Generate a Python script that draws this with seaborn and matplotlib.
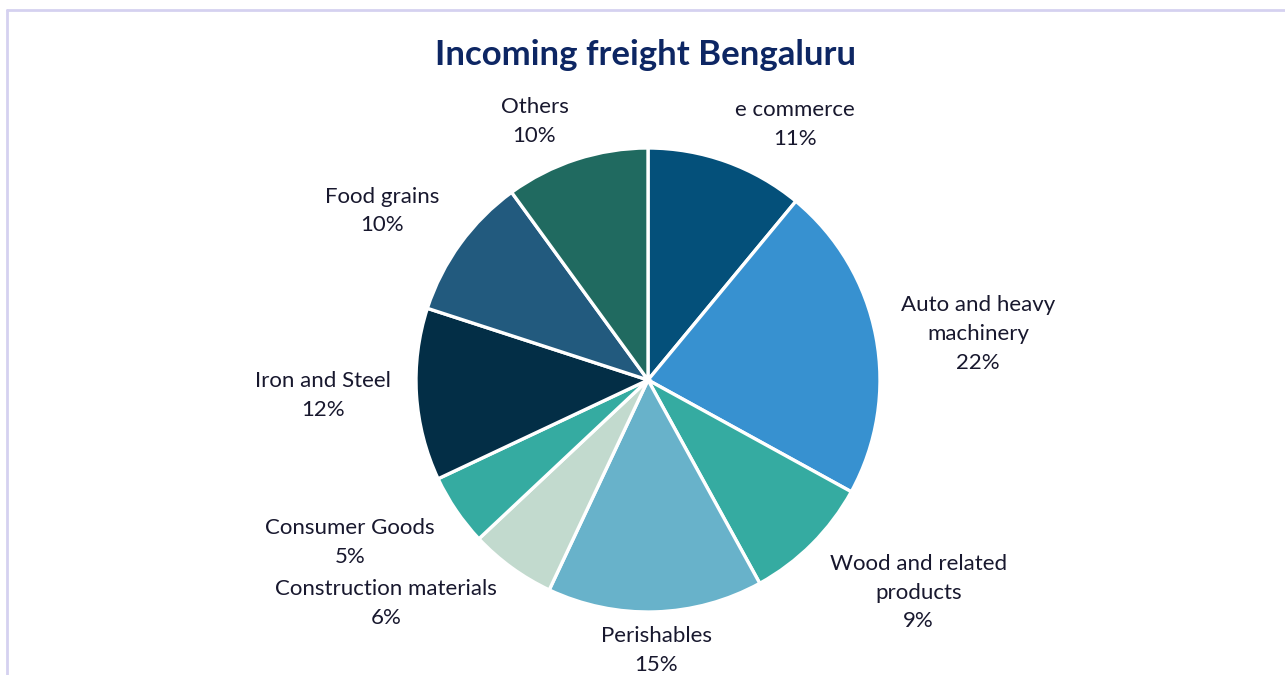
import numpy as np
import matplotlib
matplotlib.use("Agg")
import matplotlib.pyplot as plt
import seaborn as sns

# dados
categorias = ["e commerce", "Auto and heavy\nmachinery", "Wood and related\nproducts",
              "Perishables", "Construction materials", "Consumer Goods",
              "Iron and Steel", "Food grains", "Others"]
percentuais = [11, 22, 9, 15, 6, 5, 12, 10, 10]
cores = ["#04507a", "#3791d0", "#35aba1", "#68b2ca", "#c2dace",
         "#35aba1", "#032e46", "#225a7e", "#206a60"]

sns.set_theme(style="white")
plt.rcParams['font.family'] = ['Lato', 'DejaVu Sans']

fig = plt.figure(figsize=(12.85, 6.75), dpi=100)
ax = fig.add_axes([0, 0, 1, 1])

centro = (648, 295)
raio = 232
wedges, _ = ax.pie(percentuais, colors=sns.color_palette(cores), startangle=90,
                   counterclock=False, center=centro, radius=raio,
                   wedgeprops={'edgecolor': 'white', 'linewidth': 2.4})

ax.set_xlim(0, 1285)
ax.set_ylim(0, 675)
ax.set_aspect('equal')
ax.axis('off')

# rotulos fora da pizza, estilo Excel
for w, nome, p in zip(wedges, categorias, percentuais):
    ang = np.deg2rad((w.theta1 + w.theta2) / 2)
    c, s = np.cos(ang), np.sin(ang)
    x = centro[0] + 1.11 * raio * c
    y = centro[1] + 1.06 * raio * s
    ha = 'left' if c > 0.3 else ('right' if c < -0.3 else 'center')
    va = 'bottom' if s > 0.3 else ('top' if s < -0.3 else 'center')
    ax.text(x, y, f"{nome}\n{p}%", ha=ha, va=va, multialignment='center',
            fontsize=16, color='#18182e', linespacing=1.55)

fig.text(0.502, 0.918, "Incoming freight Bengaluru", ha='center', va='center',
         fontsize=25, fontweight='bold', color='#0d2663')

# moldura lavanda (topo e esquerda)
borda = '#d5d1f0'
fig.add_artist(plt.Line2D([6.5 / 1285, 1], [1 - 9.5 / 675] * 2, color=borda, lw=2))
fig.add_artist(plt.Line2D([6.5 / 1285] * 2, [0, 1 - 9.5 / 675], color=borda, lw=2))

fig.savefig("out.png", dpi=100, facecolor='white')
